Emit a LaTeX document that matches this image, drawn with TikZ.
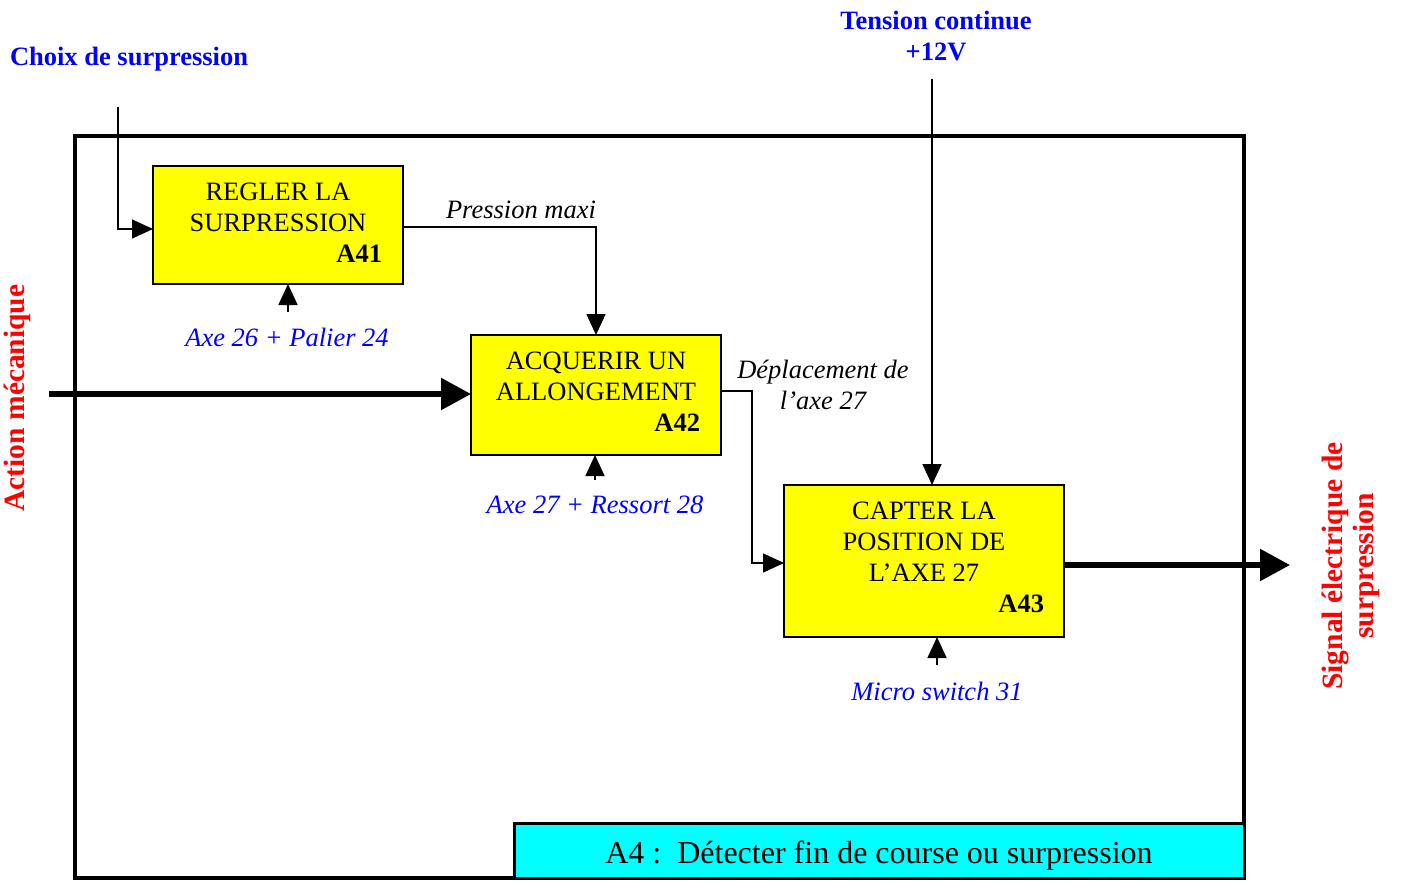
\documentclass[tikz,border=0pt]{standalone}
\usepackage{fontspec}
\setmainfont{Liberation Serif}
\usetikzlibrary{arrows.meta}
\definecolor{boxyellow}{RGB}{255,255,0}
\definecolor{titlecyan}{RGB}{0,255,255}
\definecolor{pureblue}{RGB}{0,0,255}
\definecolor{purered}{RGB}{255,0,0}
\begin{document}
\begin{tikzpicture}[x=1pt,y=-1pt,
  every node/.style={outer sep=0pt},
  fbox/.style={draw, fill=boxyellow, line width=1.8pt, inner sep=0pt, anchor=north west},
  conn/.style={line width=1.6pt, -{Triangle[length=21pt,width=19pt]}},
  bigarrow/.style={line width=5.5pt, -{Triangle[length=30pt,width=31pt]}},
  txt/.style={font=\fontsize{26.5}{31}\selectfont, inner sep=0pt, align=center},
  itxt/.style={font=\fontsize{26.5}{31}\selectfont\itshape, inner sep=0pt, align=center},
  btxt/.style={font=\fontsize{26.5}{31}\selectfont\bfseries, inner sep=0pt, align=center},
  rtxt/.style={font=\fontsize{29.5}{31}\selectfont\bfseries, inner sep=0pt, align=center, text=purered, rotate=90},
  mech/.style={itxt, text=pureblue}
]
\useasboundingbox (0,0) rectangle (1404,880);

% outer frame
\node[draw, line width=4pt, minimum width=1169pt, minimum height=742pt, inner sep=0pt, anchor=north west] (frame) at (75,136) {};

% activity boxes
\node[fbox, minimum width=250pt, minimum height=118pt] (a41) at (153,166) {};
\node[fbox, minimum width=250pt, minimum height=120pt] (a42) at (471,335) {};
\node[fbox, minimum width=280pt, minimum height=152pt] (a43) at (784,485) {};

\node[txt] (t41) at (278,207) {REGLER LA\\SURPRESSION};
\node[btxt, anchor=east] (c41) at (382,254) {A41};
\node[txt] (t42) at (596,376) {ACQUERIR UN\\ALLONGEMENT};
\node[btxt, anchor=east] (c42) at (700,423) {A42};
\node[txt] (t43) at (924,542) {CAPTER LA\\POSITION DE\\L’AXE 27};
\node[btxt, anchor=east] (c43) at (1044,604) {A43};

% title box
\node[draw, fill=titlecyan, line width=3pt, minimum width=730pt, minimum height=55pt, inner sep=0pt, anchor=north west] (title) at (514,823) {};
\node[font=\fontsize{32}{36}\selectfont, inner sep=0pt] (ttl) at (879,856) {A4 :\ \ Détecter fin de course ou surpression};

% external labels
\node[btxt, text=pureblue, anchor=west] (choix) at (10,59) {Choix de surpression};
\node[btxt, text=pureblue] (tension) at (936,36) {Tension continue\\+12V};
\node[rtxt] (action) at (17,398) {Action mécanique};
\node[rtxt] (signal) at (1351,566) {Signal électrique de\\surpression};

\node[itxt] (pm) at (521,210) {Pression maxi};
\node[itxt] (dep) at (823,385) {Déplacement de\\l’axe 27};

\node[mech] (m41) at (287,337) {Axe 26 + Palier 24};
\node[mech] (m42) at (595,505) {Axe 27 + Ressort 28};
\node[mech] (m43) at (937,691) {Micro switch 31};

% connector end points
\coordinate (cin) at (118,107);
\coordinate (tin) at (932,79);
\coordinate (amin) at (49,394);
\coordinate (sout) at (1290,565);
\coordinate (p1) at (288,312);
\coordinate (p2) at (595,480);
\coordinate (p3) at (937,665);

% connectors
\draw[conn] (cin) |- ([yshift=-4pt]a41.west);
\draw[conn] ([yshift=-2pt]a41.east) -| (a42.north);
\draw[bigarrow] (amin) -- (amin -| a42.west);
\draw[conn] ([yshift=4pt]a42.east) -- ++(31,0) |- ([yshift=-2pt]a43.west);
\draw[conn] (tin) -- (tin |- a43.north);
\draw[bigarrow] (sout -| a43.east) -- (sout);
\draw[conn] (p1) -- (p1 |- a41.south);
\draw[conn] (p2) -- (p2 |- a42.south);
\draw[conn] (p3) -- (p3 |- a43.south);
\end{tikzpicture}
\end{document}
